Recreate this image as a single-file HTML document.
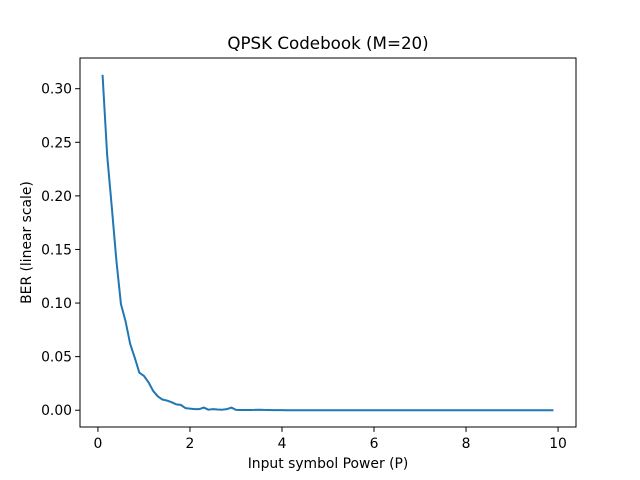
<!DOCTYPE html>
<html><head><meta charset="utf-8"><style>
body{margin:0;background:#fff}
svg{display:block;font-family:"DejaVu Sans","Liberation Sans",sans-serif}
</style></head><body>
<svg id="c" width="640" height="480"></svg>
<script>
const xValues=[];for(let i=1;i<=99;i++)xValues.push(i/10);
const head=[0.313,0.238,0.19,0.14,0.099,0.083,0.062,0.049,0.035,0.032,0.026,0.018,0.013,0.010,0.009,0.0075,0.0055,0.005,0.002,0.0015,0.001,0.001,0.0025,0.0005,0.001,0.0007,0.0005,0.001,0.0025,0.0003,0.0002,0.0002,0.0002,0.0003,0.0005,0.0003,0.0002,0.0001,0.0001,0.0001];
const berValues=xValues.map((_,i)=>i<head.length?head[i]:0);
const xTicks=[0,2,4,6,8,10];
const yTicks=[0,0.05,0.10,0.15,0.20,0.25,0.30];
const L=80,R=576,T=58,B=427;
const xmin=-0.39,xmax=10.39,ymin=-0.01565,ymax=0.32865;
const sx=v=>L+(v-xmin)/(xmax-xmin)*(R-L);
const sy=v=>B-(v-ymin)/(ymax-ymin)*(B-T);
const svg=document.getElementById('c');const NS='http://www.w3.org/2000/svg';
function mk(t,a,txt){const e=document.createElementNS(NS,t);for(const k in a)e.setAttribute(k,a[k]);if(txt!=null)e.textContent=txt;svg.appendChild(e);return e;}
let d=xValues.map((x,i)=>(i?'L':'M')+sx(x).toFixed(2)+','+sy(berValues[i]).toFixed(2)).join('');
const ln=mk('path',{d:d,fill:'none',stroke:'#1f77b4','stroke-width':2,'stroke-linejoin':'round'});


const fr=mk('rect',{x:L,y:T,width:R-L,height:B-T,fill:'none',stroke:'#000','stroke-width':1});


xTicks.forEach(t=>{const x=sx(t);mk('line',{x1:x,x2:x,y1:B,y2:B+4.9,stroke:'#000','stroke-width':1});
const e=mk('text',{x:x,y:B+21,'text-anchor':'middle','font-size':13.9},String(t));

});
yTicks.forEach(t=>{const y=sy(t);mk('line',{x1:L,x2:L-4.9,y1:y,y2:y,stroke:'#000','stroke-width':1});
const e=mk('text',{x:L-8,y:y+5,'text-anchor':'end','font-size':13.9},t.toFixed(2));

});
const ti=mk('text',{x:(L+R)/2,y:49,'text-anchor':'middle','font-size':16.7},'QPSK Codebook (M=20)');


const xl=mk('text',{x:(L+R)/2,y:468,'text-anchor':'middle','font-size':13.9},'Input symbol Power (P)');


const yl=mk('text',{x:31,y:(T+B)/2,'text-anchor':'middle','font-size':13.9,transform:`rotate(-90 31 ${(T+B)/2})`},'BER (linear scale)');


</script>
</body></html>
